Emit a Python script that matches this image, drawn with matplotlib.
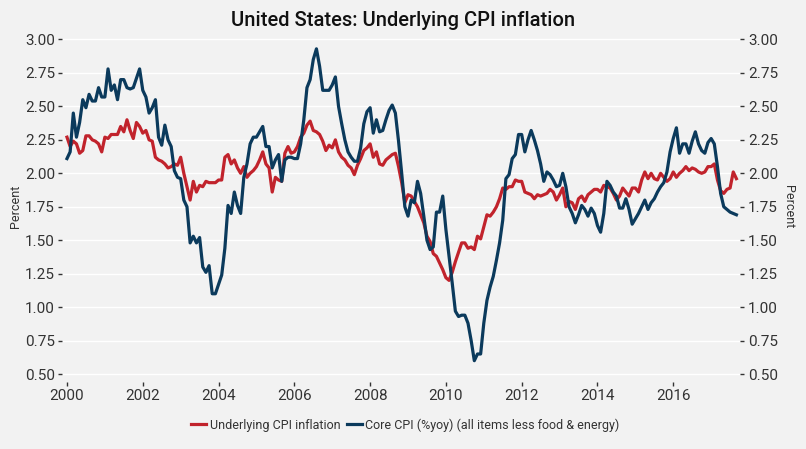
import matplotlib
matplotlib.use("Agg")
import matplotlib.pyplot as plt
import numpy as np

# monthly values, Jan 2000 - Sep 2017
underlying_cpi = [
    2.27, 2.20, 2.24, 2.22, 2.15, 2.17, 2.28, 2.28, 2.25, 2.24, 2.22, 2.16,  # 2000
    2.27, 2.26, 2.29, 2.29, 2.29, 2.35, 2.31, 2.40, 2.32, 2.26, 2.38, 2.35,  # 2001
    2.30, 2.32, 2.25, 2.24, 2.12, 2.10, 2.09, 2.07, 2.04, 2.05, 2.07, 2.06,  # 2002
    2.12, 2.00, 1.90, 1.80, 1.94, 1.86, 1.91, 1.90, 1.94, 1.93, 1.93, 1.93,  # 2003
    1.95, 1.95, 2.12, 2.14, 2.07, 2.10, 2.04, 2.00, 2.05, 1.97, 2.00, 2.02,  # 2004
    2.05, 2.10, 2.16, 2.07, 2.04, 1.86, 1.97, 1.95, 1.94, 2.15, 2.20, 2.15,  # 2005
    2.16, 2.20, 2.27, 2.30, 2.36, 2.39, 2.32, 2.31, 2.29, 2.24, 2.17, 2.21,  # 2006
    2.19, 2.25, 2.16, 2.12, 2.10, 2.06, 2.04, 1.99, 2.06, 2.11, 2.17, 2.19,  # 2007
    2.22, 2.12, 2.16, 2.07, 2.06, 2.10, 2.12, 2.14, 2.15, 2.05, 1.93, 1.78,  # 2008
    1.84, 1.83, 1.79, 1.75, 1.69, 1.63, 1.53, 1.49, 1.40, 1.38, 1.33, 1.28,  # 2009
    1.22, 1.20, 1.26, 1.34, 1.41, 1.48, 1.48, 1.44, 1.45, 1.43, 1.53, 1.51,  # 2010
    1.60, 1.69, 1.68, 1.71, 1.75, 1.81, 1.89, 1.88, 1.90, 1.90, 1.95, 1.94,  # 2011
    1.94, 1.86, 1.85, 1.84, 1.81, 1.84, 1.83, 1.84, 1.85, 1.88, 1.86, 1.80,  # 2012
    1.84, 1.89, 1.75, 1.79, 1.78, 1.73, 1.81, 1.83, 1.79, 1.84, 1.86, 1.88,  # 2013
    1.88, 1.86, 1.91, 1.90, 1.89, 1.85, 1.80, 1.83, 1.89, 1.86, 1.83, 1.89,  # 2014
    1.89, 1.86, 1.95, 2.01, 1.96, 2.00, 1.96, 1.95, 2.00, 1.97, 1.94, 1.96,  # 2015
    2.01, 1.97, 2.00, 2.02, 2.05, 2.02, 2.04, 2.03, 2.01, 2.00, 2.01, 2.05,  # 2016
    2.05, 2.07, 1.95, 1.87, 1.85, 1.88, 1.89, 2.01, 1.96,                    # 2017
]

core_cpi = [
    2.11, 2.16, 2.45, 2.27, 2.38, 2.55, 2.49, 2.59, 2.54, 2.54, 2.64, 2.57,  # 2000
    2.57, 2.78, 2.62, 2.66, 2.55, 2.70, 2.70, 2.64, 2.63, 2.64, 2.71, 2.78,  # 2001
    2.62, 2.57, 2.45, 2.49, 2.55, 2.27, 2.21, 2.36, 2.25, 2.20, 2.02, 1.97,  # 2002
    1.96, 1.80, 1.75, 1.48, 1.53, 1.48, 1.52, 1.30, 1.26, 1.31, 1.10, 1.10,  # 2003
    1.17, 1.24, 1.44, 1.76, 1.70, 1.86, 1.76, 1.70, 1.97, 2.07, 2.22, 2.27,  # 2004
    2.27, 2.31, 2.35, 2.20, 2.20, 2.04, 2.10, 2.14, 1.94, 2.10, 2.12, 2.12,  # 2005
    2.11, 2.11, 2.22, 2.40, 2.64, 2.70, 2.85, 2.93, 2.80, 2.62, 2.62, 2.62,  # 2006
    2.66, 2.72, 2.50, 2.37, 2.25, 2.16, 2.12, 2.09, 2.09, 2.19, 2.37, 2.46,  # 2007
    2.49, 2.30, 2.40, 2.31, 2.32, 2.40, 2.47, 2.51, 2.45, 2.24, 2.00, 1.75,  # 2008
    1.68, 1.80, 1.78, 1.94, 1.85, 1.68, 1.50, 1.43, 1.45, 1.71, 1.71, 1.83,  # 2009
    1.58, 1.38, 1.18, 0.97, 0.93, 0.94, 0.94, 0.88, 0.75, 0.60, 0.65, 0.65,  # 2010
    0.88, 1.05, 1.15, 1.23, 1.35, 1.48, 1.65, 1.96, 1.99, 2.11, 2.14, 2.29,  # 2011
    2.29, 2.16, 2.25, 2.32, 2.25, 2.17, 2.07, 1.94, 2.01, 1.99, 1.95, 1.90,  # 2012
    1.91, 2.00, 1.90, 1.75, 1.70, 1.63, 1.69, 1.76, 1.73, 1.68, 1.74, 1.70,  # 2013
    1.61, 1.56, 1.70, 1.94, 1.91, 1.86, 1.83, 1.74, 1.74, 1.81, 1.73, 1.62,  # 2014
    1.66, 1.70, 1.75, 1.80, 1.73, 1.78, 1.81, 1.86, 1.90, 1.93, 2.01, 2.16,  # 2015
    2.26, 2.34, 2.15, 2.22, 2.22, 2.15, 2.24, 2.31, 2.22, 2.17, 2.15, 2.23,  # 2016
    2.26, 2.22, 2.05, 1.85, 1.75, 1.73, 1.71, 1.70, 1.69,                    # 2017
]

year_ticks = [2000, 2002, 2004, 2006, 2008, 2010, 2012, 2014, 2016]
pct_ticks = [0.50, 0.75, 1.00, 1.25, 1.50, 1.75, 2.00, 2.25, 2.50, 2.75, 3.00]

months = 2000 + np.arange(len(core_cpi)) / 12.0

BG = '#f2f2f2'
RED = '#c1232c'
BLUE = '#0b3a5c'
TXT = '#333333'

plt.rcParams['font.family'] = ['Roboto', 'DejaVu Sans']

fig = plt.figure(figsize=(8.06, 4.49), dpi=100, facecolor=BG)
ax = fig.add_axes([0.0769, 0.149, 0.841, 0.781])
ax.set_facecolor(BG)

ax.plot(months, underlying_cpi, color=RED, lw=2.3, label='Underlying CPI inflation',
        zorder=3, solid_joinstyle='round')
ax.plot(months, core_cpi, color=BLUE, lw=2.3, label='Core CPI (%yoy) (all items less food & energy)',
        zorder=3, solid_joinstyle='round')

ax.set_xlim(1999.868, 2017.757)
ax.set_ylim(0.44, 3.06)
ax.set_xticks(year_ticks)
ax.set_yticks(pct_ticks)
ax.set_yticklabels([f'{v:.2f}' for v in pct_ticks])
ax.grid(axis='y', color='white', lw=1.0, zorder=0)
ax.grid(axis='x', visible=False)
for s in ax.spines.values():
    s.set_visible(False)
ax.tick_params(axis='both', colors=TXT, labelcolor=TXT, labelsize=11,
               length=3, width=1, pad=2)
ax.set_ylabel('Percent', fontsize=9, color=TXT, labelpad=2)

ax2 = ax.twinx()
ax2.set_ylim(ax.get_ylim())
ax2.set_yticks(pct_ticks)
ax2.set_yticklabels([f'{v:.2f}' for v in pct_ticks])
for s in ax2.spines.values():
    s.set_visible(False)
ax2.tick_params(axis='y', colors=TXT, labelcolor=TXT, labelsize=11,
                length=3, width=1, pad=3)
ax2.set_ylabel('Percent', fontsize=9, color=TXT, rotation=270, labelpad=12)

fig.text(0.5, 1 - 20 / 449, 'United States: Underlying CPI inflation',
         ha='center', va='center', fontsize=14.5, fontweight='medium', color='#111111')

fig.legend(loc='center', bbox_to_anchor=(0.503, 1 - 425 / 449), ncol=2, frameon=False,
           fontsize=9, handlelength=1.2, handletextpad=0.3, columnspacing=0.5,
           labelcolor=TXT)

fig.savefig('out.png', dpi=100, facecolor=BG)
